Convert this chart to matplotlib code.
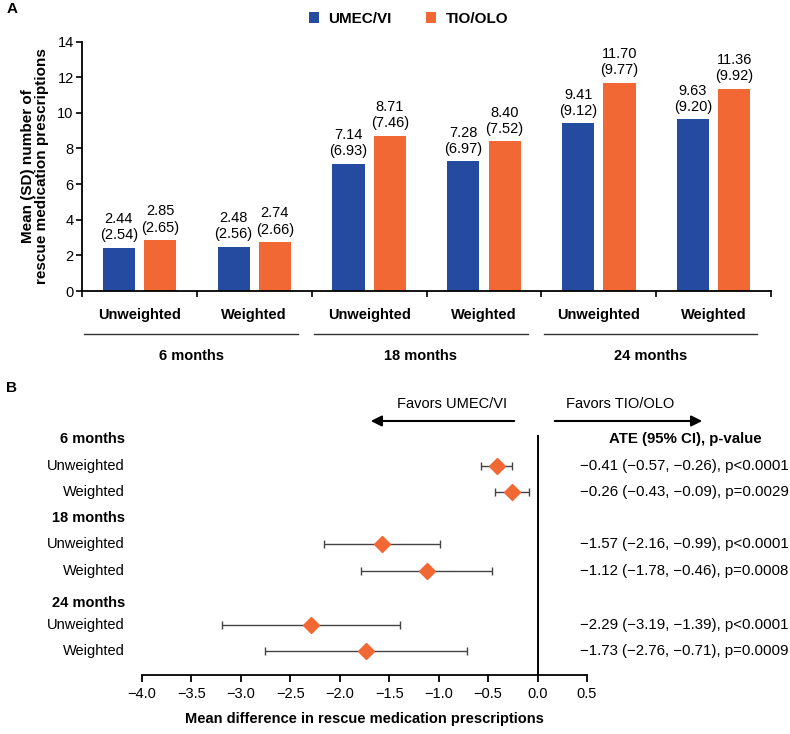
import matplotlib
matplotlib.use("Agg")
import matplotlib.pyplot as plt
from matplotlib.transforms import blended_transform_factory

plt.rcParams["font.family"] = ["Liberation Sans", "DejaVu Sans"]
plt.rcParams["axes.unicode_minus"] = True

BLUE = "#254ba1"
ORANGE = "#f26835"

# panel A data
subgroups = ["Unweighted", "Weighted"] * 3
periods = ["6 months", "18 months", "24 months"]
umec_mean = [2.44, 2.48, 7.14, 7.28, 9.41, 9.63]
umec_sd = [2.54, 2.56, 6.93, 6.97, 9.12, 9.20]
tio_mean = [2.85, 2.74, 8.71, 8.40, 11.70, 11.36]
tio_sd = [2.65, 2.66, 7.46, 7.52, 9.77, 9.92]

# panel B data
ate = [-0.41, -0.26, -1.57, -1.12, -2.29, -1.73]
ci_low = [-0.57, -0.43, -2.16, -1.78, -3.19, -2.76]
ci_high = [-0.26, -0.09, -0.99, -0.46, -1.39, -0.71]
pvals = ["p<0.0001", "p=0.0029", "p<0.0001", "p=0.0008", "p<0.0001", "p=0.0009"]

fig = plt.figure(figsize=(7.9, 7.34), dpi=100)

# ---------------- Panel A ----------------
ax = fig.add_axes([0.1038, 0.6035, 0.8722, 0.3399])
x = [i + 0.5 for i in range(len(subgroups))]
off, w = 0.18, 0.28
b1 = ax.bar([v - off for v in x], umec_mean, w, color=BLUE, label="UMEC/VI")
b2 = ax.bar([v + off for v in x], tio_mean, w, color=ORANGE, label="TIO/OLO")

for bars, means, sds in ((b1, umec_mean, umec_sd), (b2, tio_mean, tio_sd)):
    for r, m, s in zip(bars, means, sds):
        ax.annotate(f"{m:.2f}\n({s:.2f})", (r.get_x() + r.get_width() / 2, m),
                    xytext=(0, 4), textcoords="offset points",
                    ha="center", va="bottom", fontsize=10.5, linespacing=1.2)

ax.set_xlim(0, 6)
ax.set_ylim(0, 14)
ax.set_yticks(range(0, 15, 2))
ax.set_xticks(range(0, 7))
ax.set_xticklabels([])
ax.tick_params(axis="both", direction="out", length=4, width=1.2, labelsize=10.5)
ax.tick_params(axis="y", pad=2)
for s in ("top", "right"):
    ax.spines[s].set_visible(False)
for s in ("left", "bottom"):
    ax.spines[s].set_linewidth(1.3)
ax.set_ylabel("Mean (SD) number of\nrescue medication prescriptions",
              fontsize=11, fontweight="bold", labelpad=6, linespacing=1.0)

tr = blended_transform_factory(ax.transData, ax.transAxes)
for xi, lab in zip(x, subgroups):
    ax.text(xi, -0.096, lab, transform=tr, ha="center", va="center",
            fontsize=10.5, fontweight="bold")
for g, per in enumerate(periods):
    ax.plot([2 * g + 0.02, 2 * g + 1.88], [-0.172, -0.172], transform=tr,
            color="#333333", lw=1, clip_on=False)
    ax.text(2 * g + 0.95, -0.26, per, transform=tr, ha="center", va="center",
            fontsize=10.5, fontweight="bold")

fig.legend(handles=[b1, b2], loc="center", bbox_to_anchor=(0.517, 0.974),
           ncol=2, frameon=False, handlelength=0.7, handleheight=0.7,
           handletextpad=0.6, columnspacing=2.2,
           prop={"weight": "bold", "size": 11})

fig.text(0.008, 0.988, "A", fontsize=11, fontweight="bold", va="center")
fig.text(0.008, 0.471, "B", fontsize=11, fontweight="bold", va="center")

# ---------------- Panel B ----------------
bx = fig.add_axes([0.1797, 0.0804, 0.5633, 0.327])
bx.set_xlim(-4.0, 0.5)
bx.set_ylim(675, 435)

header_y = [439, 518, 603]
row_y = [466, 492, 544, 571, 625, 651]

bx.axvline(0, color="black", lw=1.4)
err = [[a - lo for a, lo in zip(ate, ci_low)], [hi - a for a, hi in zip(ate, ci_high)]]
bx.errorbar(ate, row_y, xerr=err, fmt="none", ecolor="#444444", elinewidth=1,
            capsize=3, capthick=1)
bx.plot(ate, row_y, "D", color=ORANGE, markersize=8.5, linestyle="none")

bx.set_xticks([-4.0 + 0.5 * i for i in range(10)])
bx.set_xticklabels([f"{-4.0 + 0.5 * i:.1f}".replace("-", "\u2212") for i in range(10)])
bx.set_yticks([])
bx.tick_params(axis="x", direction="out", length=5, width=1.3, labelsize=10.5)
for s in ("top", "right", "left"):
    bx.spines[s].set_visible(False)
bx.spines["bottom"].set_linewidth(1.3)
bx.set_xlabel("Mean difference in rescue medication prescriptions",
              fontsize=10.5, fontweight="bold", labelpad=8)

tr2 = blended_transform_factory(bx.transAxes, bx.transData)
for hy, per in zip(header_y, periods):
    bx.text(-0.038, hy, per, transform=tr2, ha="right", va="center",
            fontsize=10.5, fontweight="bold")
for ry, lab in zip(row_y, subgroups):
    bx.text(-0.038, ry, lab, transform=tr2, ha="right", va="center", fontsize=10.5)

def m(v):
    return f"{v:.2f}".replace("-", "\u2212")

bx.text(1.22, header_y[0], "ATE (95% CI), p-value", transform=tr2,
        ha="center", va="center", fontsize=10.8, fontweight="bold")
for ry, a, lo, hi, p in zip(row_y, ate, ci_low, ci_high, pvals):
    bx.text(0.984, ry, f"{m(a)} ({m(lo)}, {m(hi)}), {p}", transform=tr2,
            ha="left", va="center", fontsize=10.8)

# direction arrows
ay = 1 - 421 / 734
ty = 1 - 404 / 734
fig.add_artist(matplotlib.patches.FancyArrowPatch(
    (517 / 790, ay), (368 / 790, ay), transform=fig.transFigure,
    arrowstyle="-|>", mutation_scale=16, lw=1.5, color="black"))
fig.add_artist(matplotlib.patches.FancyArrowPatch(
    (552 / 790, ay), (705 / 790, ay), transform=fig.transFigure,
    arrowstyle="-|>", mutation_scale=16, lw=1.5, color="black"))
fig.text(452 / 790, ty, "Favors UMEC/VI", ha="center", va="center", fontsize=10.5)
fig.text(620 / 790, ty, "Favors TIO/OLO", ha="center", va="center", fontsize=10.5)

fig.savefig("out.png", dpi=100)
